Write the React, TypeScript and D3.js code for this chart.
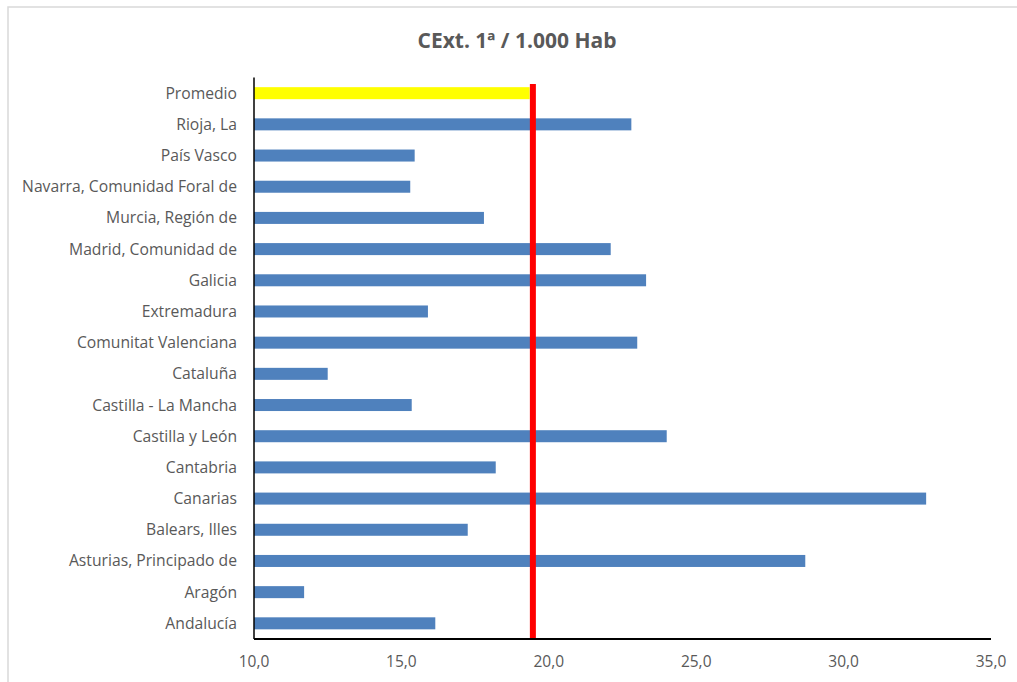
import React from 'react';
import * as d3 from 'd3';

const categories = [
  'Promedio',
  'Rioja, La',
  'País Vasco',
  'Navarra, Comunidad Foral de',
  'Murcia, Región de',
  'Madrid, Comunidad de',
  'Galicia',
  'Extremadura',
  'Comunitat Valenciana',
  'Cataluña',
  'Castilla - La Mancha',
  'Castilla y León',
  'Cantabria',
  'Canarias',
  'Balears, Illes',
  'Asturias, Principado de',
  'Aragón',
  'Andalucía',
];
const values = [19.35, 22.8, 15.45, 15.3, 17.8, 22.1, 23.3, 15.9, 23.0, 12.5, 15.35, 24.0, 18.2, 32.8, 17.25, 28.7, 11.7, 16.15];
const average = 19.46;
const xTicks = [10, 15, 20, 25, 30, 35];

const font = '"Open Sans", sans-serif';

export default function App() {
  const width = 1017;
  const height = 682;
  const left = 254;
  const right = 991;
  const top = 77.5;
  const bottom = 639;

  const x = d3.scaleLinear().domain([10, 35]).range([left, right]);
  const y = d3.scaleBand().domain(categories).range([top, bottom]).paddingInner(0.615).paddingOuter(0.31);
  const fmt = (v: number) => v.toFixed(1).replace('.', ',');

  return (
    <svg width={width} height={height} style={{ position: 'absolute', left: 0, top: 0 }}>
      <rect x={8} y={7} width={1020} height={690} fill="#fff" stroke="#d9d9d9" strokeWidth={1.5} />
      <text x={517} y={48} textAnchor="middle" fontFamily={font} fontWeight="bold" fontSize={21} fill="#595959">
        CExt. 1ª / 1.000 Hab
      </text>
      {categories.map((c, i) => (
        <g key={c}>
          <rect
            x={x(10)}
            y={y(c)!}
            width={x(values[i]) - x(10)}
            height={y.bandwidth()}
            fill={i === 0 ? '#ffff00' : '#4f81bd'}
          />
          <text
            x={left - 17}
            y={y(c)! + y.bandwidth() / 2}
            dy="0.35em"
            textAnchor="end"
            fontFamily={font}
            fontSize={15.7}
            fill="#595959"
          >
            {c}
          </text>
        </g>
      ))}
      <line x1={x(average)} x2={x(average)} y1={84} y2={bottom} stroke="#ff0000" strokeWidth={6} />
      <line x1={left} x2={left} y1={top} y2={bottom} stroke="#000" strokeWidth={1.5} />
      <line x1={left} x2={right} y1={bottom} y2={bottom} stroke="#000" strokeWidth={2} />
      {xTicks.map((t) => (
        <text key={t} x={x(t)} y={667} textAnchor="middle" fontFamily={font} fontSize={15.5} fill="#595959">
          {fmt(t)}
        </text>
      ))}
    </svg>
  );
}
